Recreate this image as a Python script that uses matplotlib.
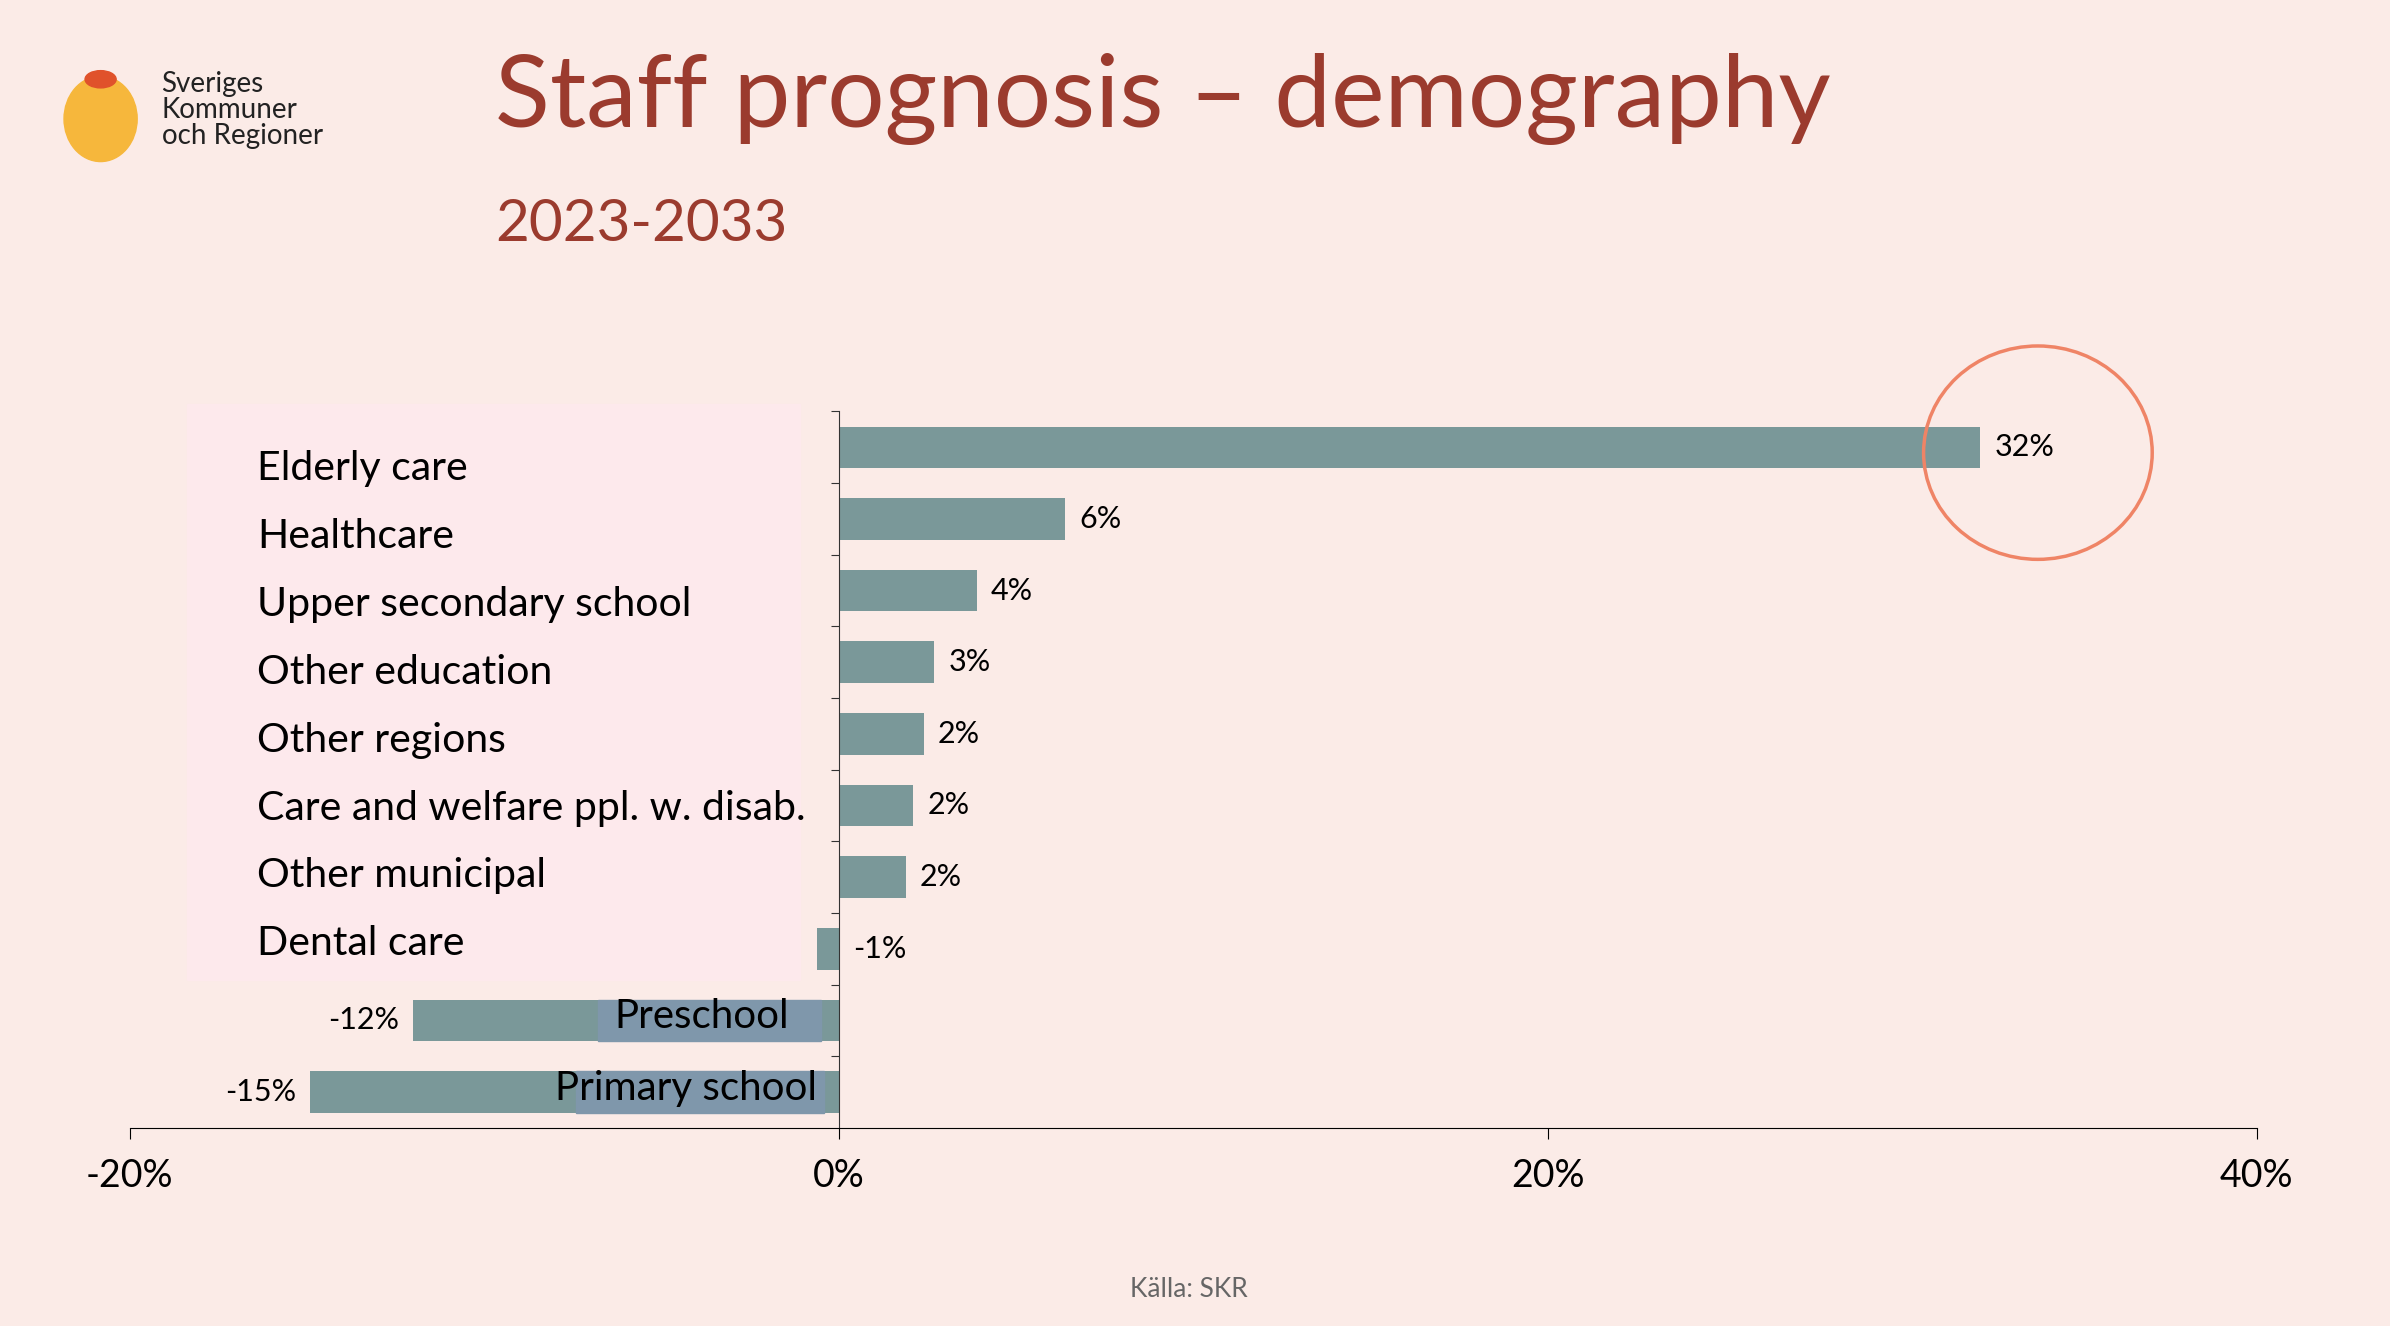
import matplotlib.pyplot as plt
from matplotlib.patches import Rectangle, Ellipse, Circle

plt.rcParams["font.family"] = "Lato"

categories = ["Elderly care", "Healthcare", "Upper secondary school", "Other education",
              "Other regions", "Care and welfare ppl. w. disab.", "Other municipal",
              "Dental care", "Preschool", "Primary school"]
values = [32.2, 6.4, 3.9, 2.7, 2.4, 2.1, 1.9, -0.6, -12.0, -14.9]
value_labels = ["32%", "6%", "4%", "3%", "2%", "2%", "2%", "-1%", "-12%", "-15%"]
xticks = [-20, 0, 20, 40]
xtick_labels = ["-20%", "0%", "20%", "40%"]

bg = "#fbebe7"
bar_col = "#7a9899"
title_col = "#9b3b2e"

fig = plt.figure(figsize=(23.9, 13.26), dpi=100, facecolor=bg)
ax = fig.add_axes([0.0542, 0.1494, 0.8900, 0.5403])
ax.set_facecolor("none")

n = len(categories)
y = list(range(n))
ax.barh(y, values, height=0.58, color=bar_col, zorder=2)
ax.set_ylim(n - 0.5, -0.5)
ax.set_xlim(-20, 40)
ax.set_xticks(xticks)
ax.set_xticklabels(xtick_labels)
ax.tick_params(axis="x", length=8, pad=14, labelsize=27)
ax.set_yticks([i - 0.5 for i in range(n)])
ax.set_yticklabels([])
ax.tick_params(axis="y", length=6, direction="out", color="#333333")
for s in ["top", "right"]:
    ax.spines[s].set_visible(False)
ax.spines["left"].set_position(("data", 0))
ax.spines["left"].set_color("#333333")

for i, (v, lab) in enumerate(zip(values, value_labels)):
    if v >= 0 or v > -2:
        ax.text(max(v, 0) + 0.4, i, lab, va="center", ha="left", fontsize=22, zorder=4)
    else:
        ax.text(v - 0.4, i, lab, va="center", ha="right", fontsize=22, zorder=4)

# pink label box for top categories (legend-like list)
ax.add_patch(Rectangle((123 / 1568, 1 - 643 / 870), 402 / 1568, 378 / 870,
                       transform=fig.transFigure, color="#fde9ec", zorder=0, clip_on=False))
for i, name in enumerate(categories[:8]):
    ax.text(-16.4, 0.29 + i * 0.949, name, va="center", ha="left", fontsize=29.5, zorder=3)
# preschool / primary school labels with blue overlay
ax.add_patch(Rectangle((-6.8, 8 - 0.29), 6.3, 0.58, color="#7f97ab", zorder=2.5))
ax.add_patch(Rectangle((-7.4, 9 - 0.29), 7.0, 0.58, color="#7f97ab", zorder=2.5))
ax.text(-1.4, 7.95, "Preschool", va="center", ha="right", fontsize=29, zorder=3)
ax.text(-0.6, 8.95, "Primary school", va="center", ha="right", fontsize=29, zorder=3)

# highlight circle
ax.add_patch(Ellipse((1337 / 1568, 1 - 297 / 870), 150 / 1568, 140 / 870,
                     transform=fig.transFigure, fill=False, edgecolor="#ef8466",
                     lw=2.5, clip_on=False, zorder=5))

fig.text(325 / 1568, 1 - 65 / 870, "Staff prognosis – demography", fontsize=73,
         color=title_col, va="center")
fig.text(325 / 1568, 1 - 147 / 870, "2023-2033", fontsize=42, color=title_col, va="center")
fig.text(780 / 1568, 1 - 846 / 870, "Källa: SKR", fontsize=19, color="#666666",
         ha="center", va="center")

# logo
fig.patches.append(Ellipse((66 / 1568, 1 - 78 / 870), 48 / 1568, 56 / 870,
                           transform=fig.transFigure, color="#f6b73c"))
fig.patches.append(Circle((66 / 1568, 1 - 52 / 870), 0.0065, transform=fig.transFigure,
                          color="#e0522b"))
fig.text(106 / 1568, 1 - 72 / 870, "Sveriges\nKommuner\noch Regioner", fontsize=20,
         va="center", linespacing=1.0, color="#222222")

fig.savefig("out.png", dpi=100, facecolor=bg)
